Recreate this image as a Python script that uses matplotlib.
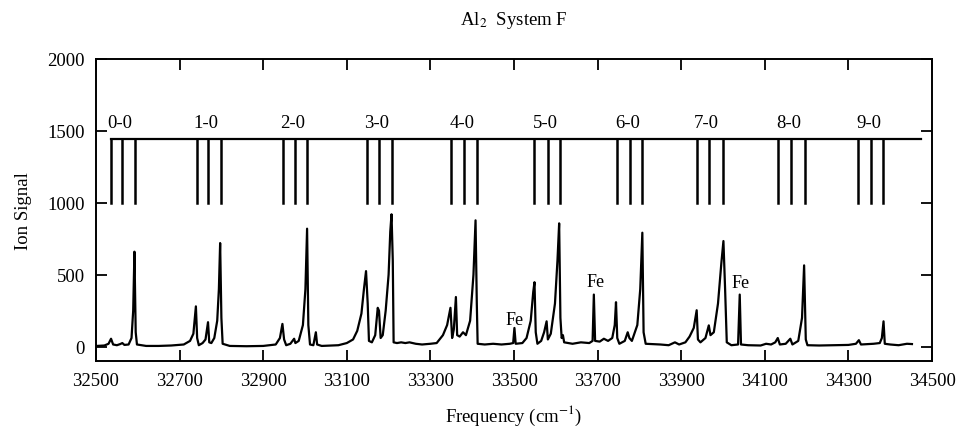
import matplotlib
matplotlib.use('Agg')
from matplotlib import pyplot as plt

plt.rcParams['font.family'] = ['Liberation Serif', 'DejaVu Serif']
plt.rcParams['mathtext.fontset'] = 'stix'

# Traced spectrum (frequency in cm-1, ion signal)
freq = [32502, 32520, 32530, 32536, 32541, 32550, 32558, 32563, 32568, 32578,
        32585, 32589, 32592, 32595, 32598, 32620, 32650, 32680, 32710, 32725,
        32733, 32739, 32742, 32746, 32755, 32762, 32768, 32771, 32776, 32783,
        32790, 32794, 32797, 32800, 32803, 32820, 32860, 32900, 32930, 32940,
        32946, 32950, 32955, 32965, 32974, 32977, 32985, 32995, 33001, 33005,
        33008, 33012, 33020, 33026, 33029, 33040, 33080, 33100, 33115, 33125,
        33135, 33141, 33146, 33150, 33153, 33160, 33168, 33174, 33177, 33181,
        33186, 33193, 33200, 33204, 33207, 33210, 33212, 33220, 33230, 33240,
        33250, 33265, 33280, 33300, 33315, 33330, 33340, 33348, 33352, 33356,
        33361, 33364, 33370, 33378, 33385, 33395, 33403, 33408, 33411, 33413,
        33430, 33450, 33470, 33490, 33498, 33501, 33504, 33520, 33530, 33540,
        33546, 33549, 33552, 33556, 33565, 33572, 33578, 33581, 33588, 33598,
        33604, 33608, 33611, 33614, 33617, 33620, 33640, 33660, 33680, 33688,
        33691, 33694, 33705, 33715, 33725, 33735, 33741, 33744, 33747, 33752,
        33765, 33772, 33776, 33782, 33795, 33802, 33807, 33810, 33815, 33850,
        33870, 33885, 33895, 33910, 33920, 33930, 33937, 33940, 33946, 33958,
        33966, 33970, 33978, 33988, 33996, 34001, 34005, 34009, 34020, 34036,
        34040, 34043, 34060, 34090, 34103, 34115, 34125, 34131, 34136, 34150,
        34161, 34166, 34180, 34189, 34194, 34198, 34202, 34230, 34260, 34300,
        34318, 34325, 34330, 34360, 34375, 34380, 34384, 34387, 34400, 34420,
        34440, 34452]
signal = [5, 8, 20, 55, 15, 10, 18, 25, 12, 15,
          60, 250, 660, 100, 15, 5, 5, 8, 15, 40,
          90, 280, 60, 10, 25, 50, 170, 30, 25, 60,
          180, 400, 720, 200, 20, 5, 3, 5, 15, 60,
          158, 50, 10, 20, 55, 25, 40, 150, 400, 820,
          150, 15, 10, 100, 15, 5, 10, 25, 50, 110,
          230, 400, 525, 300, 40, 30, 80, 270, 250, 60,
          80, 250, 500, 800, 920, 600, 30, 25, 30, 25,
          30, 20, 15, 20, 25, 80, 150, 270, 60, 120,
          345, 80, 70, 100, 80, 180, 500, 878, 300, 20,
          15, 20, 15, 20, 25, 130, 20, 25, 60, 180,
          380, 448, 100, 20, 40, 100, 176, 50, 90, 300,
          600, 857, 200, 60, 80, 30, 20, 30, 25, 40,
          362, 40, 35, 55, 40, 60, 150, 309, 60, 20,
          40, 100, 60, 40, 150, 400, 792, 100, 20, 15,
          10, 30, 15, 30, 70, 130, 253, 50, 30, 60,
          148, 80, 100, 300, 580, 734, 400, 30, 10, 15,
          362, 15, 10, 8, 20, 15, 30, 60, 15, 20,
          55, 15, 40, 200, 565, 50, 10, 8, 10, 12,
          20, 45, 15, 20, 25, 60, 176, 20, 15, 10,
          20, 18]

# Vibrational band assignment comb
band_labels = ['0-0', '1-0', '2-0', '3-0', '4-0', '5-0', '6-0', '7-0', '8-0', '9-0']
comb_lines = [
    [32536, 32563, 32593],
    [32741, 32769, 32799],
    [32947, 32976, 33005],
    [33148, 33177, 33208],
    [33349, 33381, 33412],
    [33549, 33581, 33610],
    [33746, 33778, 33806],
    [33938, 33967, 34001],
    [34132, 34163, 34195],
    [34324, 34354, 34383],
]
comb_top = 1440
comb_bottom = 1000
comb_end = 34474

# Fe atomic lines
fe_freq = [33502, 33696, 34043]
fe_y = [190, 450, 445]

fig = plt.figure(figsize=(9.57, 4.31), dpi=100)
ax = fig.add_axes([0.1003, 0.160, 0.8736, 0.701])

ax.plot(freq, signal, c='black', lw=1.6)

# comb
ax.plot([comb_lines[0][0], comb_end], [comb_top, comb_top], c='black', lw=1.6)
for lines, lab in zip(comb_lines, band_labels):
    for f in lines:
        ax.plot([f, f], [comb_bottom, comb_top], c='black', lw=1.8)
    ax.text(lines[1] - 6, 1560, lab, ha='center', va='center', fontsize=13.5)

for f, y in zip(fe_freq, fe_y):
    ax.text(f, y, 'Fe', ha='center', va='center', fontsize=13)

ax.set_xlim(32500, 34500)
ax.set_ylim(-100, 2000)
ax.set_xticks(range(32500, 34501, 200))
ax.set_yticks([0, 500, 1000, 1500, 2000])
ax.tick_params(axis='both', direction='in', length=8, width=1.3,
               labelsize=13.5, pad=8, top=True, right=True)
for s in ax.spines.values():
    s.set_linewidth(1.4)

ax.set_title('Al$_2$  System F', fontsize=13.5, pad=25)
ax.set_xlabel('Frequency (cm$^{-1}$)', fontsize=13.5, labelpad=10)
ax.set_ylabel('Ion Signal', fontsize=13.5, labelpad=11)

fig.savefig('out.png', dpi=100)
